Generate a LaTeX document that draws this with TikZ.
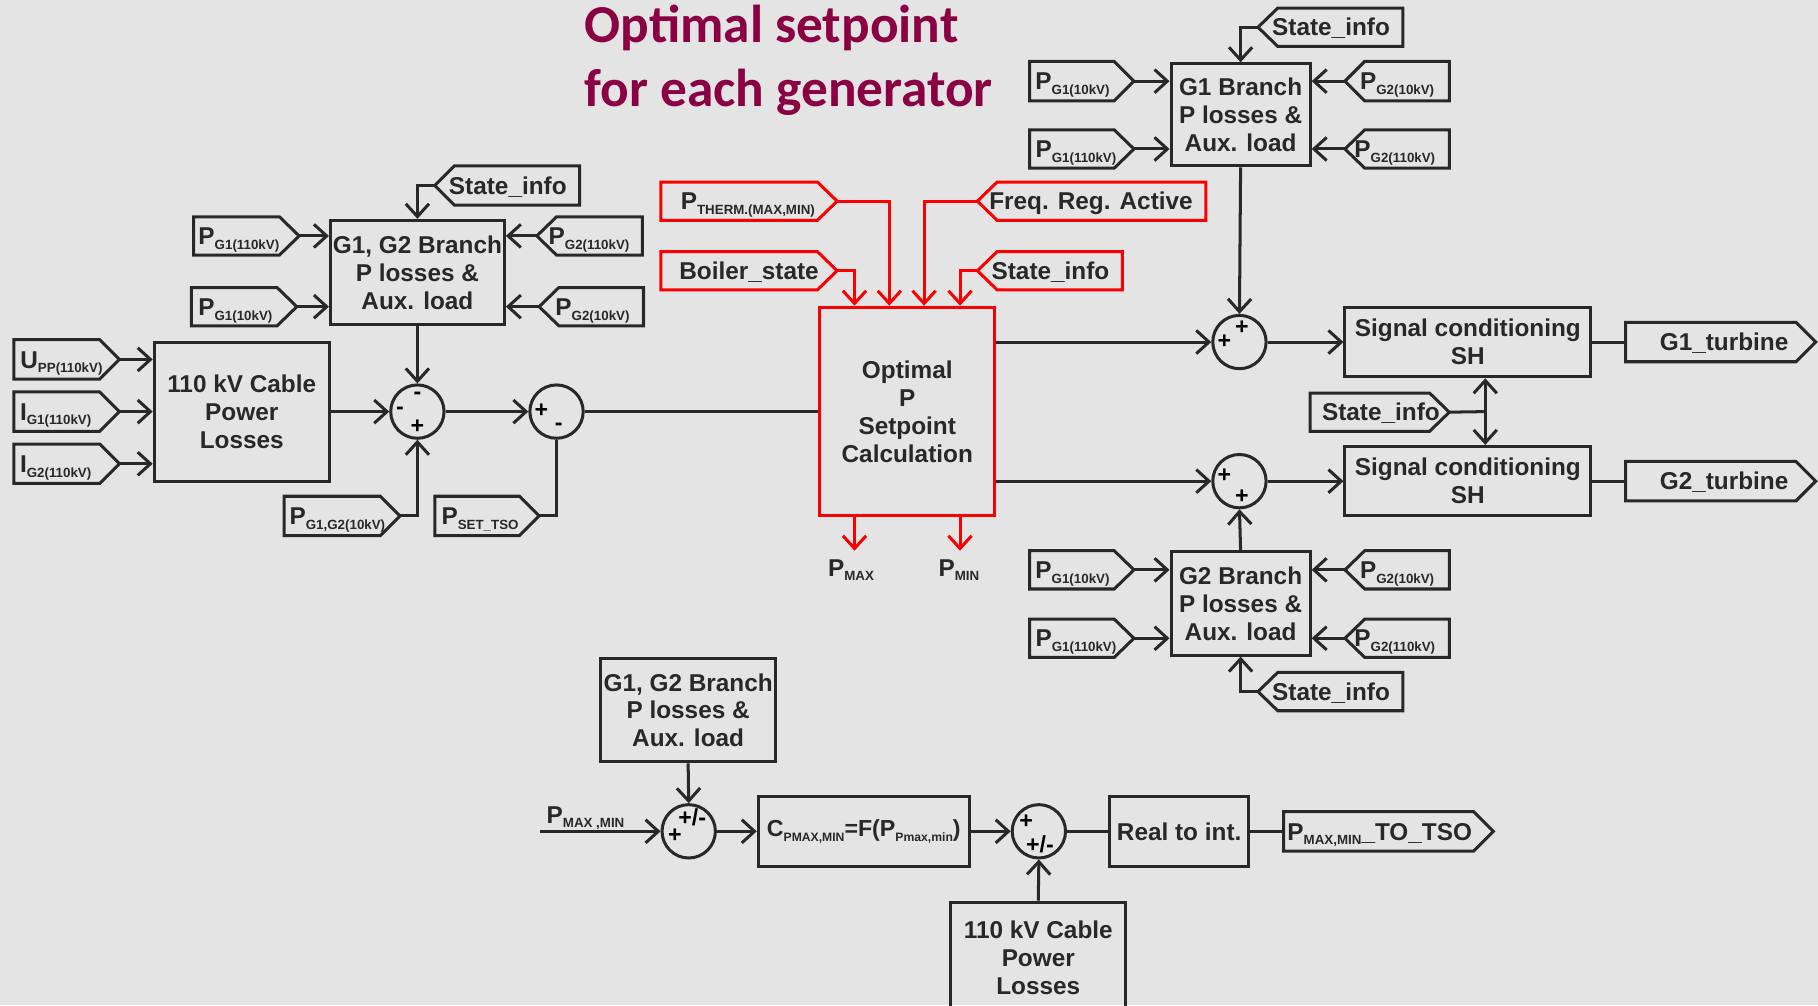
\documentclass[tikz,border=0pt]{standalone}
\usepackage{fontspec}
\setmainfont{Liberation Sans}
\newfontfamily\titlefont{Carlito}
\usetikzlibrary{arrows.meta}

\definecolor{bg}{RGB}{228,228,228}
\definecolor{ink}{RGB}{40,40,40}
\definecolor{wine}{RGB}{139,0,66}
\definecolor{sigred}{RGB}{250,0,0}

% lowered small index, used for P_{...}, U_{...}, I_{...}
\newcommand\dn[1]{\raisebox{-4pt}{\fontsize{11.5}{12}\selectfont #1}}
\newcommand\dnsmall[1]{\raisebox{-4pt}{\fontsize{10.5}{12}\selectfont #1}}

\tikzset{
  lw/.style={line width=2.6pt},
  conn/.style={lw, draw=ink, -{Straight Barb[length=11pt,width=20pt,line width=2.6pt]}},
  plain/.style={lw, draw=ink},
  rconn/.style={conn, draw=sigred},
  box/.style={lw, draw=ink, rectangle, inner sep=0pt, align=center,
    font=\fontsize{21}{24}\selectfont\bfseries, text=ink},
  rbox/.style={box, draw=sigred},
  sumc/.style={lw, draw=ink, circle, minimum size=46pt, inner sep=0pt},
  tagline/.style={lw, draw=ink, line join=miter},
  tagtext/.style={inner sep=0pt, anchor=base, font=\fontsize{21}{24}\selectfont\bfseries, text=ink},
  sgn/.style={inner sep=0pt, font=\fontsize{20}{20}\selectfont\bfseries, text=black},
}

% tag pointing right: [style]{name}{x1}{y1}{x2}{y2}{text x}{text}
\newcommand\tagR[8][]{%
  \draw[tagline,#1] (#3,#4) -- ({#5-17},#4) -- (#5,{(#4+#6)/2}) -- ({#5-17},#6) -- (#3,#6) -- cycle;
  \node[tagtext] (#2) at (#7,{(#4+#6)/2+7.5}) {#8};
  \coordinate (#2-tip) at (#5,{(#4+#6)/2});
  \coordinate (#2-tail) at (#3,{(#4+#6)/2});
}
% tag pointing left: [style]{name}{x1}{y1}{x2}{y2}{text x}{text}
\newcommand\tagL[8][]{%
  \draw[tagline,#1] (#5,#4) -- ({#3+17},#4) -- (#3,{(#4+#6)/2}) -- ({#3+17},#6) -- (#5,#6) -- cycle;
  \node[tagtext] (#2) at (#7,{(#4+#6)/2+7.5}) {#8};
  \coordinate (#2-tip) at (#3,{(#4+#6)/2});
  \coordinate (#2-tail) at (#5,{(#4+#6)/2});
}

\begin{document}
\begin{tikzpicture}[x=1pt,y=-1pt]
\fill[bg] (0,0) rectangle (1568,867);
\useasboundingbox (0,0) rectangle (1568,867);

% ---------- title ----------
\node[anchor=base west, inner sep=0pt, text=wine, font=\titlefont\fontsize{46}{55}\selectfont\bfseries] (title1) at (504,37) {Optimal setpoint};
\node[anchor=base west, inner sep=0pt, text=wine, font=\titlefont\fontsize{46}{55}\selectfont\bfseries] (title2) at (504,92) {for each generator};

% ---------- left: branch losses and cable losses ----------
\node[box, minimum width=150pt, minimum height=90pt] (lbr) at (360,235) {G1, G2 Branch\\P losses \&\\Aux. load};
\node[box, minimum width=151pt, minimum height=120pt] (lcab) at (208.5,355) {110 kV Cable\\Power\\Losses};
\node[sumc] (s1) at (360,355) {};
\node[sumc] (s2) at (480,355) {};

\tagL{ls}{375}{143}{500}{177}{438}{State\_info}
\tagR{lp1}{167}{187}{258}{220}{206}{P\dn{G1(110kV)}}
\tagR{lp2}{165}{248}{256}{281}{203}{P\dn{G1(10kV)}}
\tagL{lp3}{463}{187}{554}{220}{508}{P\dn{G2(110kV)}}
\tagL{lp4}{465}{248}{555}{281}{511}{P\dn{G2(10kV)}}
\tagR{lu}{12}{293}{103}{327}{53}{U\dn{PP(110kV)}}
\tagR{li1}{12}{338}{103}{372}{48}{I\dn{G1(110kV)}}
\tagR{li2}{12}{383}{103}{417}{48}{I\dn{G2(110kV)}}
\tagR{lpg}{245}{428}{345}{462}{291}{P\dn{G1,G2(10kV)}}
\tagR{lps}{375}{428}{465}{462}{414}{P\dn{SET\_TSO}}

\draw[conn] (ls-tip) -| (lbr.north);
\draw[conn] (lp1-tip) -- (lbr.west |- lp1-tip);
\draw[conn] (lp2-tip) -- (lbr.west |- lp2-tip);
\draw[conn] (lp3-tip) -- (lbr.east |- lp3-tip);
\draw[conn] (lp4-tip) -- (lbr.east |- lp4-tip);
\draw[conn] (lu-tip) -- (lcab.west |- lu-tip);
\draw[conn] (li1-tip) -- (lcab.west |- li1-tip);
\draw[conn] (li2-tip) -- (lcab.west |- li2-tip);
\draw[conn] (lbr.south) -- (s1.north);
\draw[conn] (lcab.east) -- (s1.west);
\draw[conn] (s1.east) -- (s2.west);
\draw[conn] (lpg-tip) -| (s1.south);
\draw[plain] (lps-tip) -| (s2.south);

\node[sgn] at (360,341) {-};
\node[sgn] at (345,354) {-};
\node[sgn] at (360,368) {+};
\node[sgn] at (467,354) {+};
\node[sgn] at (482,368) {-};

% ---------- centre: optimal setpoint ----------
\node[rbox, minimum width=151pt, minimum height=180pt] (opt) at (782.5,355) {Optimal\\P\\Setpoint\\Calculation};
\draw[plain] (s2.east) -- (opt.west);

\tagR[draw=sigred]{rth}{570}{157}{722}{190}{645}{P\dn{THERM.(MAX,MIN)}}
\tagR[draw=sigred]{rbo}{570}{217}{722}{250}{646}{Boiler\_state}
\tagL[draw=sigred]{rfr}{843}{157}{1040}{190}{941}{Freq. Reg. Active}
\tagL[draw=sigred]{rst}{843}{217}{968}{250}{906}{State\_info}

\draw[rconn] (rbo-tip) -| ([xshift=-45.5pt]opt.north);
\draw[rconn] (rth-tip) -| ([xshift=-15.5pt]opt.north);
\draw[rconn] (rfr-tip) -| ([xshift=14.5pt]opt.north);
\draw[rconn] (rst-tip) -| ([xshift=45.5pt]opt.north);

\node[tagtext, anchor=base] (pmax) at (734,497) {P\dn{MAX}};
\node[tagtext, anchor=base] (pmin) at (827,497) {P\dn{MIN}};
\draw[rconn] ([xshift=-45.5pt]opt.south) -- ([xshift=-45.5pt]opt.south |- 0,475);
\draw[rconn] ([xshift=45.5pt]opt.south) -- ([xshift=45.5pt]opt.south |- 0,475);

% ---------- right: generator branches and signal conditioning ----------
\node[box, minimum width=120pt, minimum height=88pt] (g1b) at (1070,99) {G1 Branch\\P losses \&\\Aux. load};
\node[box, minimum width=120pt, minimum height=89pt] (g2b) at (1070,520.5) {G2 Branch\\P losses \&\\Aux. load};
\node[box, minimum width=212pt, minimum height=60pt] (sc1) at (1266,295) {Signal conditioning\\SH};
\node[box, minimum width=212pt, minimum height=60pt] (sc2) at (1266,415) {Signal conditioning\\SH};
\node[sumc] (s3) at (1069,295) {};
\node[sumc] (s4) at (1069,415) {};

\tagL{rs1}{1085}{7}{1210}{40}{1148}{State\_info}
\tagR{ra1}{888}{53}{978}{87}{925}{P\dn{G1(10kV)}}
\tagR{ra2}{888}{112}{978}{145}{928}{P\dn{G1(110kV)}}
\tagL{ra3}{1160}{53}{1250}{87}{1205}{P\dn{G2(10kV)}}
\tagL{ra4}{1160}{112}{1250}{145}{1203}{P\dn{G2(110kV)}}
\tagR{rg1}{1402}{278}{1566}{312}{1487}{G1\_turbine}
\tagR{rs2}{1130}{339}{1250}{372}{1191}{State\_info}
\tagR{rg2}{1402}{398}{1566}{432}{1487}{G2\_turbine}
\tagR{rb1}{888}{475}{978}{508}{925}{P\dn{G1(10kV)}}
\tagR{rb2}{888}{534}{978}{567}{928}{P\dn{G1(110kV)}}
\tagL{rb3}{1160}{475}{1250}{508}{1205}{P\dn{G2(10kV)}}
\tagL{rb4}{1160}{534}{1250}{567}{1203}{P\dn{G2(110kV)}}
\tagL{rs3}{1085}{580}{1210}{613}{1148}{State\_info}

\draw[conn] (rs1-tip) -| (g1b.north);
\draw[conn] (ra1-tip) -- (g1b.west |- ra1-tip);
\draw[conn] (ra2-tip) -- (g1b.west |- ra2-tip);
\draw[conn] (ra3-tip) -- (g1b.east |- ra3-tip);
\draw[conn] (ra4-tip) -- (g1b.east |- ra4-tip);
\draw[conn] (g1b.south) -- (s3.north);
\draw[conn] (opt.east |- s3) -- (s3.west);
\draw[conn] (opt.east |- s4) -- (s4.west);
\draw[conn] (s3.east) -- (sc1.west);
\draw[conn] (s4.east) -- (sc2.west);
\draw[plain] (sc1.east) -- (rg1-tail);
\draw[plain] (sc2.east) -- (rg2-tail);
\coordinate (split) at (1281,355);
\draw[plain] (rs2-tip) -- (split);
\draw[conn] (split) -- (sc1.south -| split);
\draw[conn] (split) -- (sc2.north -| split);
\draw[conn] (rb1-tip) -- (g2b.west |- rb1-tip);
\draw[conn] (rb2-tip) -- (g2b.west |- rb2-tip);
\draw[conn] (rb3-tip) -- (g2b.east |- rb3-tip);
\draw[conn] (rb4-tip) -- (g2b.east |- rb4-tip);
\draw[conn] (rs3-tip) -| (g2b.south);
\draw[conn] (g2b.north) -- (s4.south);

\node[sgn] at (1056,295) {+};
\node[sgn] at (1071,283) {+};
\node[sgn] at (1056,410) {+};
\node[sgn] at (1071,428) {+};

% ---------- bottom: limits sent to the TSO ----------
\node[box, minimum width=151pt, minimum height=89pt] (bbr) at (593.5,612.5) {G1, G2 Branch\\P losses \&\\Aux. load};
\node[box, minimum width=182pt, minimum height=60pt, font=\fontsize{20}{24}\selectfont\bfseries] (cbox) at (745,717) {C\dnsmall{PMAX,MIN}=F(P\dnsmall{Pmax,min})};
\node[box, minimum width=120pt, minimum height=60pt] (rti) at (1017,717) {Real to int.};
\node[box, minimum width=151pt, minimum height=96pt] (bcab) at (895.5,826) {110 kV Cable\\Power\\Losses};
\node[sumc] (s5) at (594,717) {};
\node[sumc] (s6) at (896,717) {};
\tagR{tso}{1107}{700}{1288}{734}{1190}{P\dn{MAX,MIN}\_TO\_TSO}

\coordinate (pin) at (466,717);
\node[tagtext, anchor=base] (pmm) at (505,710) {P\dn{MAX ,MIN}};
\draw[conn] (pin) -- (s5.west);
\draw[conn] (bbr.south) -- (s5.north);
\draw[conn] (s5.east) -- (cbox.west);
\draw[conn] (cbox.east) -- (s6.west);
\draw[plain] (s6.east) -- (rti.west);
\draw[plain] (rti.east) -- (tso-tail);
\draw[conn] (bcab.north) -- (s6.south);

\node[sgn] at (597,705) {+/-};
\node[sgn] at (582,721) {+};
\node[sgn] at (885,709) {+};
\node[sgn] at (897,728) {+/-};
\end{tikzpicture}
\end{document}
